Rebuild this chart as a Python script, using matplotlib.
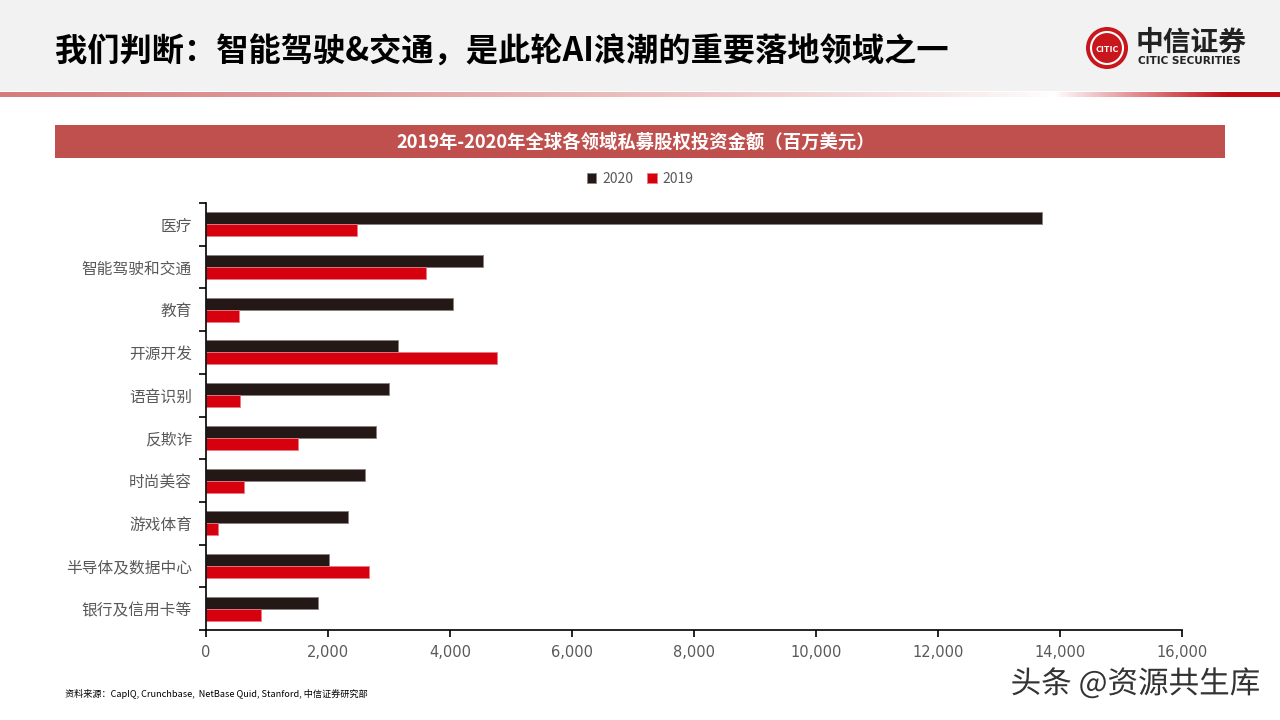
import numpy as np
import matplotlib
matplotlib.use('Agg')
import matplotlib.pyplot as plt
import matplotlib.patheffects as pe
from matplotlib.patches import Rectangle, Circle
from matplotlib.ticker import FuncFormatter

plt.rcParams['font.family'] = ['Noto Sans CJK SC', 'DejaVu Sans']

categories = ['医疗', '智能驾驶和交通', '教育', '开源开发', '语音识别',
              '反欺诈', '时尚美容', '游戏体育', '半导体及数据中心', '银行及信用卡等']
values_2020 = [13700, 4540, 4050, 3150, 3000, 2780, 2600, 2320, 2020, 1840]
values_2019 = [2480, 3600, 540, 4770, 550, 1500, 630, 200, 2670, 900]
series_names = ['2020', '2019']
series_colors = ['#231815', '#d7000f']
x_ticks = list(range(0, 16001, 2000))

title = '我们判断：智能驾驶&交通，是此轮AI浪潮的重要落地领域之一'
chart_title = '2019年-2020年全球各领域私募股权投资金额（百万美元）'
source = '资料来源：CapIQ, Crunchbase,  NetBase Quid, Stanford, 中信证券研究部'
watermark = '头条 @资源共生库'

W, H = 1280, 720
fig = plt.figure(figsize=(12.8, 7.2), dpi=100)

# background layer in pixel coordinates
bg = fig.add_axes([0, 0, 1, 1], zorder=0)
bg.set_xlim(0, W)
bg.set_ylim(H, 0)
bg.axis('off')
bg.add_patch(Rectangle((0, 0), W, 91, color='#f2f2f2', lw=0))

# gradient rule under the header
grad = np.ones((1, 400, 3))
xs = np.linspace(0, 1, 400)
split = 1055 / W
for i, t in enumerate(xs):
    if t < split:
        a = 0.75 * (1 - t / split) ** 0.8
        c = np.array([0.78, 0.31, 0.31])
    else:
        a = min(1.0, (t - split) / (1 - split) * 1.3)
        c = np.array([0.76, 0.05, 0.08])
    grad[0, i] = (1 - a) * np.ones(3) + a * c
bg.imshow(grad, extent=(0, W, 97, 92), aspect='auto', zorder=1)

bg.text(55, 52, title, fontsize=23.2, fontweight='bold', color='black',
        va='center', ha='left')

# logo
bg.add_patch(Circle((1107, 48), 21, facecolor='#c8161d', edgecolor='none'))
bg.add_patch(Circle((1107, 48), 16, facecolor='none', edgecolor='white', lw=1.5))
bg.text(1107, 49, 'CITIC', fontsize=6.5, fontweight='bold', color='white',
        ha='center', va='center')
bg.text(1136, 43, '中信证券', fontsize=20, fontweight='bold', color='#222222',
        ha='left', va='center')
bg.text(1138, 61, 'CITIC SECURITIES', fontsize=7.6, fontweight='bold',
        color='#222222', ha='left', va='center', family=['DejaVu Sans'])

# chart title band
bg.add_patch(Rectangle((55, 125), 1170, 33, color='#c0504d', lw=0))
bg.text(636, 142, chart_title, fontsize=13.2, fontweight='bold', color='white',
        ha='center', va='center')

bg.text(65, 694, source, fontsize=6.6, color='black', ha='left', va='center')
bg.text(1260, 684, watermark, fontsize=22, color='#333333', ha='right',
        va='center',
        path_effects=[pe.withStroke(linewidth=2.5, foreground='white')])

# main chart
ax = fig.add_axes([206 / W, 1 - 630 / H, 976 / W, 427 / H], zorder=2)
ax.patch.set_alpha(0)
y = np.arange(len(categories))
h = 0.28
ax.barh(y - h / 2, values_2020, height=h, color=series_colors[0],
        edgecolor='#8a8080', linewidth=0.6, label=series_names[0])
ax.barh(y + h / 2, values_2019, height=h, color=series_colors[1],
        edgecolor='#e87a82', linewidth=0.6, label=series_names[1])

ax.set_ylim(len(categories) - 0.5, -0.5)
ax.set_xlim(0, 16000)
ax.set_yticks(np.arange(-0.5, len(categories), 1.0))
ax.set_yticklabels([])
ax.set_yticks(y, minor=True)
ax.set_yticklabels(categories, minor=True, fontsize=11.3, color='#595959')
ax.tick_params(axis='y', which='major', length=5, width=1.2, direction='out')
ax.tick_params(axis='y', which='minor', length=0, pad=10)
ax.set_xticks(x_ticks)
ax.xaxis.set_major_formatter(FuncFormatter(lambda v, p: f'{int(v):,}'))
ax.tick_params(axis='x', length=5, width=1.2, direction='out',
               labelsize=10.5, labelcolor='#595959', pad=6)
for lab in ax.get_xticklabels():
    lab.set_family(['DejaVu Sans'])
for s in ['top', 'right']:
    ax.spines[s].set_visible(False)
for s in ['left', 'bottom']:
    ax.spines[s].set_linewidth(1.2)
    ax.spines[s].set_color('black')

fig.legend(*ax.get_legend_handles_labels(), loc='center',
           bbox_to_anchor=(640 / W, 1 - 179 / H), ncol=2, frameon=False,
           handlelength=0.7, handleheight=0.7, handletextpad=0.4,
           columnspacing=1.0, fontsize=10, labelcolor='#595959')

fig.savefig('out.png', dpi=100)
